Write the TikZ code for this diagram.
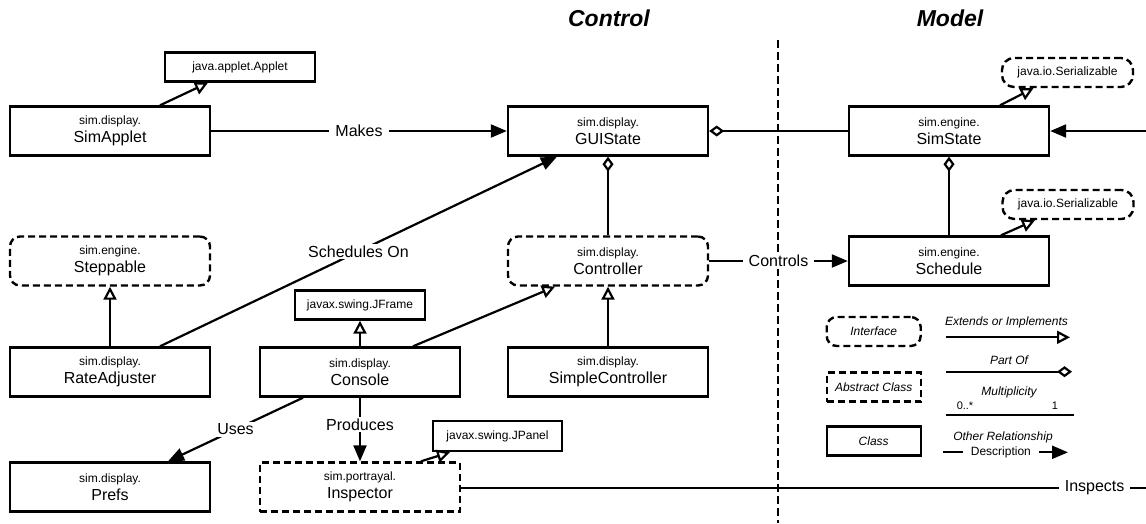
\documentclass[tikz,border=0pt]{standalone}
\usepackage{fontspec}
\setmainfont{Liberation Sans}
\usetikzlibrary{arrows.meta,calc}
\newcommand\clname[2]{{\fontsize{12}{14}\selectfont #1}\\#2}
\tikzset{
  box/.style={draw, line width=2.4pt, minimum width=200pt, minimum height=49pt,
    align=center, inner sep=0pt, font=\fontsize{16}{17.6}\selectfont},
  ifbox/.style={box, dash pattern=on 7pt off 4pt, rounded corners=10pt},
  absbox/.style={box, dash pattern=on 7pt off 4pt},
  smallbox/.style={draw, line width=2.4pt, minimum width=150pt, minimum height=29pt,
    inner sep=0pt, font=\fontsize{12}{14}\selectfont},
  smallif/.style={smallbox, dash pattern=on 7pt off 4pt, rounded corners=12pt},
  legbox/.style={draw, line width=2.4pt, minimum width=94pt, minimum height=29pt,
    inner sep=0pt, font=\fontsize{12}{14}\selectfont\itshape},
  ext/.style={line width=2.2pt, -{Triangle[open, length=13pt, width=13pt]}},
  rel/.style={line width=2.2pt, -{Triangle[length=16pt, width=13pt]}},
  part/.style={line width=2.2pt, {Diamond[open, length=15pt, width=11pt]}-},
  plain/.style={line width=2.2pt},
  lbl/.style={fill=white, inner xsep=6pt, inner ysep=2pt, font=\fontsize{16}{18}\selectfont},
  leglbl/.style={inner sep=0pt, font=\fontsize{12}{14}\selectfont\itshape},
  title/.style={inner sep=0pt, font=\fontsize{23}{26}\selectfont\bfseries\itshape},
  divider/.style={line width=2pt, dash pattern=on 8pt off 4pt},
}
\begin{document}
\begin{tikzpicture}[x=1pt,y=-1pt]
\useasboundingbox (0,0) rectangle (1146,523);
\draw[divider] (778,40) -- (778,523);

\node[title] (tctl) at (609,18) {Control};
\node[title] (tmod) at (950,18) {Model};

% row 1
\node[smallbox] (applet) at (240,67) {java.applet.Applet};
\node[box] (sa) at (110,131) {\clname{sim.display.}{SimApplet}};
\node[box] (gui) at (608,131) {\clname{sim.display.}{GUIState}};
\node[box] (ss) at (949,131) {\clname{sim.engine.}{SimState}};
\node[smallif, minimum width=131pt] (ser1) at (1067.5,72.5) {java.io.Serializable};

% row 2
\node[ifbox] (step) at (110,261) {\clname{sim.engine.}{Steppable}};
\node[ifbox] (ctrl) at (608,261) {\clname{sim.display.}{Controller}};
\node[box] (sch) at (949,261) {\clname{sim.engine.}{Schedule}};
\node[smallif, minimum width=131pt] (ser2) at (1068,204.5) {java.io.Serializable};
\node[smallbox, minimum width=130pt] (jframe) at (360,305) {javax.swing.JFrame};

% row 3
\node[box] (ra) at (110,372) {\clname{sim.display.}{RateAdjuster}};
\node[box] (con) at (360,372) {\clname{sim.display.}{Console}};
\node[box] (sc) at (608,372) {\clname{sim.display.}{SimpleController}};

% row 4
\node[smallbox, minimum width=129pt, minimum height=30pt] (jpanel) at (497.5,436) {javax.swing.JPanel};
\node[box] (prefs) at (110,487) {\clname{sim.display.}{Prefs}};
\node[absbox] (insp) at (360,487) {\clname{sim.portrayal.}{Inspector}};

% free ends at the right border
\coordinate (rin) at (1146,131);
\coordinate (rout) at (1146,488);

% connectors
\draw[ext] ($(sa.north)+(50,0)$) -- ($(applet.south)+(-32,0)$);
\draw[rel] (sa.east) -- node[lbl] (lmakes) {Makes} (gui.west);
\draw[part] (gui.east) -- (ss.west);
\draw[rel] (rin) -- (ss.east);
\draw[ext] ($(ss.north)+(51,0)$) -- ($(ser1.south)+(-34,0)$);
\draw[part] (ss.south) -- (sch.north);
\draw[ext] ($(sch.north)+(52,0)$) -- ($(ser2.south)+(-33,0)$);
\draw[rel] (ctrl.east) -- node[lbl] (lcontrols) {Controls} (sch.west);
\draw[part] (gui.south) -- (ctrl.north);
\draw[ext] (ra.north) -- (step.south);
\draw[rel] ($(ra.north)+(50,0)$) -- node[lbl] (lsched) {Schedules On} ($(gui.south)+(-51,0)$);
\draw[ext] (con.north) -- (jframe.south);
\draw[ext] ($(con.north)+(53,0)$) -- ($(ctrl.south)+(-53,0)$);
\draw[ext] (sc.north) -- (ctrl.south);
\draw[rel] ($(con.south)+(-57,0)$) -- node[lbl] (luses) {Uses} ($(prefs.north)+(58,0)$);
\draw[rel] (con.south) -- node[lbl, pos=0.42] (lprod) {Produces} (insp.north);
\draw[ext] ($(insp.north)+(61,0)$) -- ($(jpanel.south)+(-47.5,0)$);
\draw[plain] (insp.east |- rout) -- node[lbl, pos=0.925] (linsp) {Inspects} (rout);

% legend
\node[legbox, dash pattern=on 7pt off 4pt, rounded corners=10pt] (lgif) at (873.7,331.5) {Interface};
\node[legbox, dash pattern=on 7pt off 4pt] (lgabs) at (873.7,387) {Abstract Class};
\node[legbox] (lgcls) at (873.7,441) {Class};

\node[leglbl] (tx1) at (1006.5,322) {Extends or Implements};
\coordinate (e1) at (945.7,337.3);
\coordinate (e2) at (1070,337.3);
\draw[ext] (e1) -- (e2);

\node[leglbl] (tx2) at (1009,360) {Part Of};
\coordinate (p1) at (945.7,371.7);
\coordinate (p2) at (1072,371.7);
\draw[line width=2.2pt, -{Diamond[open, length=15pt, width=11pt]}] (p1) -- (p2);

\node[leglbl] (tx3) at (1009,392.7) {Multiplicity};
\node[inner sep=0pt, font=\fontsize{11}{13}\selectfont] (mzero) at (965,406) {0..*};
\node[inner sep=0pt, font=\fontsize{11}{13}\selectfont] (mone) at (1055,406) {1};
\coordinate (m1) at (945.7,414.7);
\coordinate (m2) at (1074,414.7);
\draw[plain] (m1) -- (m2);

\node[leglbl] (tx4) at (1003,437) {Other Relationship};
\coordinate (o1) at (943,452.3);
\coordinate (o2) at (1068,452.3);
\draw[rel] (o1) -- node[lbl, pos=0.463, inner xsep=8pt, font=\fontsize{12}{14}\selectfont] (odesc) {Description} (o2);
\end{tikzpicture}
\end{document}
